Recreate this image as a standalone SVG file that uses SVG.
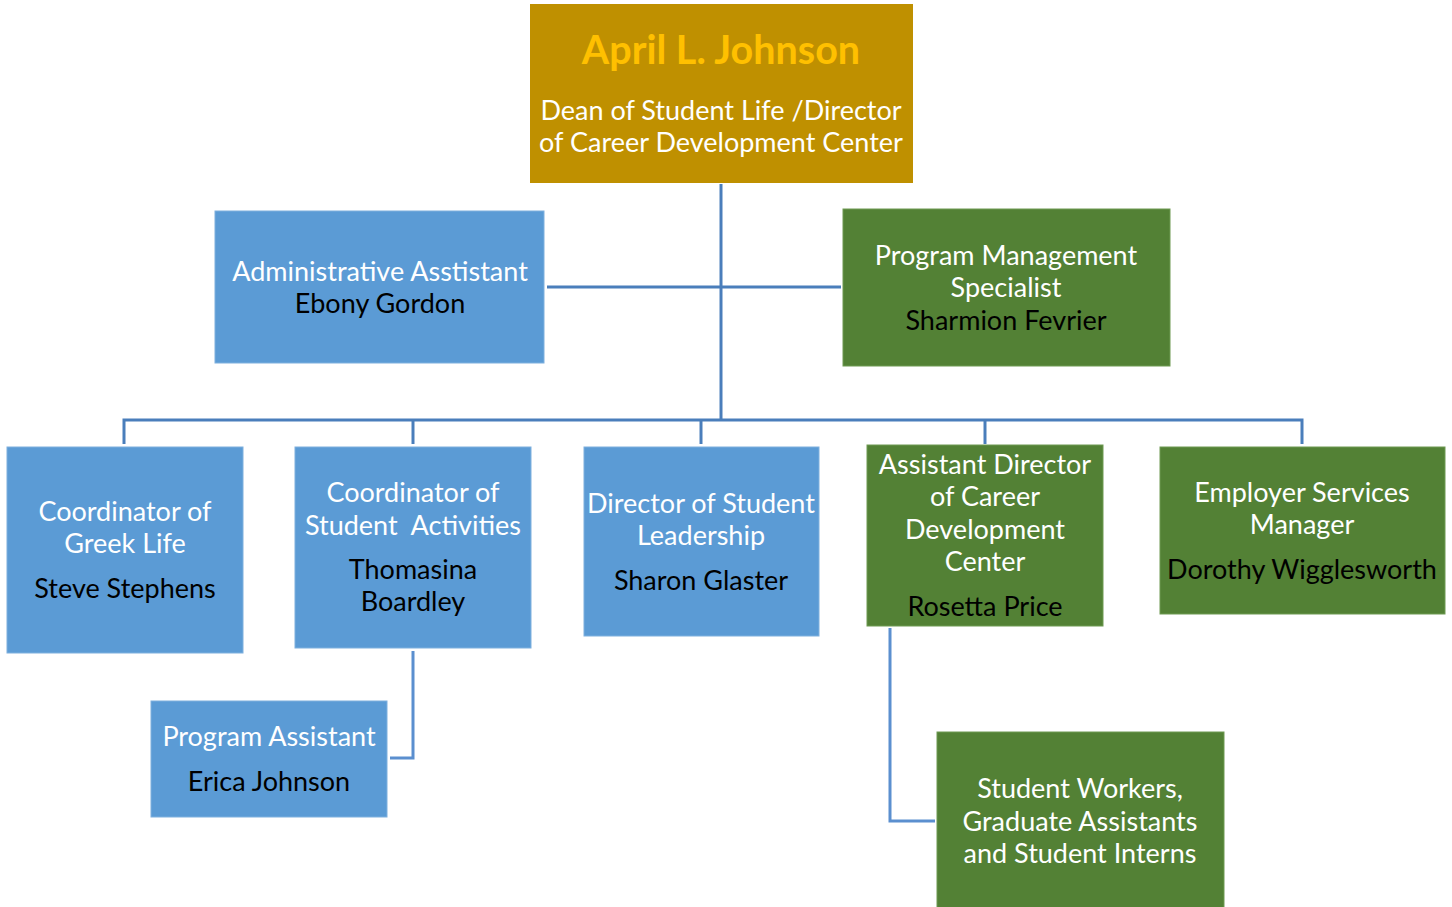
<svg xmlns="http://www.w3.org/2000/svg" width="1452" height="907" viewBox="0 0 1452 907">
<style>
.blue{fill:#5B9BD5;stroke:#7FB0DE;stroke-width:1}
.green{fill:#538135;stroke:#6E9A52;stroke-width:1}
.gold{fill:#BF9000}
text{font-family:Lato,"Open Sans","Liberation Sans",sans-serif;font-size:27px;text-anchor:middle}
.w{fill:#FFFFFF}
.k{fill:#000000}
.conn{fill:none;stroke:#4A7EBB;stroke-width:3}
.conn2{fill:none;stroke:#5B8FCF;stroke-width:3}
</style>
<rect width="1452" height="907" fill="#FFFFFF"/>
<g id="connectors">
<path class="conn" d="M721,184 V419"/>
<path class="conn" d="M547,287 H841"/>
<path class="conn" d="M124,444 V420 H1302 V444"/>
<path class="conn" d="M413,420 V444"/>
<path class="conn" d="M701,420 V444"/>
<path class="conn" d="M985,420 V444"/>
<path class="conn2" d="M413,651 V758 H390"/>
<path class="conn2" d="M890,628 V821 H935"/>
</g>
<g id="node-johnson">
<rect class="gold" x="530" y="4" width="383" height="179"/>
<text x="721" y="64" style="font-weight:bold;font-size:39.5px;fill:#FFC000">April L. Johnson</text>
<text class="w" x="721" y="120">Dean of Student Life /Director</text>
<text class="w" x="721" y="152">of Career Development Center</text>
</g>
<g id="node-admin">
<rect class="blue" x="215" y="211" width="329" height="152"/>
<text class="w" x="380" y="281">Administrative Asstistant</text>
<text class="k" x="380" y="313">Ebony Gordon</text>
</g>
<g id="node-pms">
<rect class="green" x="843" y="209" width="327" height="157"/>
<text class="w" x="1006" y="265">Program Management</text>
<text class="w" x="1006" y="297">Specialist</text>
<text class="k" x="1006" y="330">Sharmion Fevrier</text>
</g>
<g id="node-greek">
<rect class="blue" x="7" y="447" width="236" height="206"/>
<text class="w" x="125" y="521">Coordinator of</text>
<text class="w" x="125" y="553">Greek Life</text>
<text class="k" x="125" y="598">Steve Stephens</text>
</g>
<g id="node-activities">
<rect class="blue" x="295" y="447" width="236" height="201"/>
<text class="w" x="413" y="502">Coordinator of</text>
<text class="w" x="413" y="535" xml:space="preserve">Student  Activities</text>
<text class="k" x="413" y="579">Thomasina</text>
<text class="k" x="413" y="611">Boardley</text>
</g>
<g id="node-leadership">
<rect class="blue" x="584" y="447" width="235" height="189"/>
<text class="w" x="701" y="513">Director of Student</text>
<text class="w" x="701" y="545">Leadership</text>
<text class="k" x="701" y="590">Sharon Glaster</text>
</g>
<g id="node-asstdir">
<rect class="green" x="867" y="445" width="236" height="181"/>
<text class="w" x="985" y="474">Assistant Director</text>
<text class="w" x="985" y="506">of Career</text>
<text class="w" x="985" y="539">Development</text>
<text class="w" x="985" y="571">Center</text>
<text class="k" x="985" y="616">Rosetta Price</text>
</g>
<g id="node-employer">
<rect class="green" x="1160" y="447" width="285" height="167"/>
<text class="w" x="1302" y="502">Employer Services</text>
<text class="w" x="1302" y="534">Manager</text>
<text class="k" x="1302" y="579">Dorothy Wigglesworth</text>
</g>
<g id="node-progasst">
<rect class="blue" x="151" y="701" width="236" height="116"/>
<text class="w" x="269" y="746">Program Assistant</text>
<text class="k" x="269" y="791">Erica Johnson</text>
</g>
<g id="node-students">
<rect class="green" x="937" y="732" width="287" height="176"/>
<text class="w" x="1080" y="798">Student Workers,</text>
<text class="w" x="1080" y="831">Graduate Assistants</text>
<text class="w" x="1080" y="863">and Student Interns</text>
</g>
</svg>
